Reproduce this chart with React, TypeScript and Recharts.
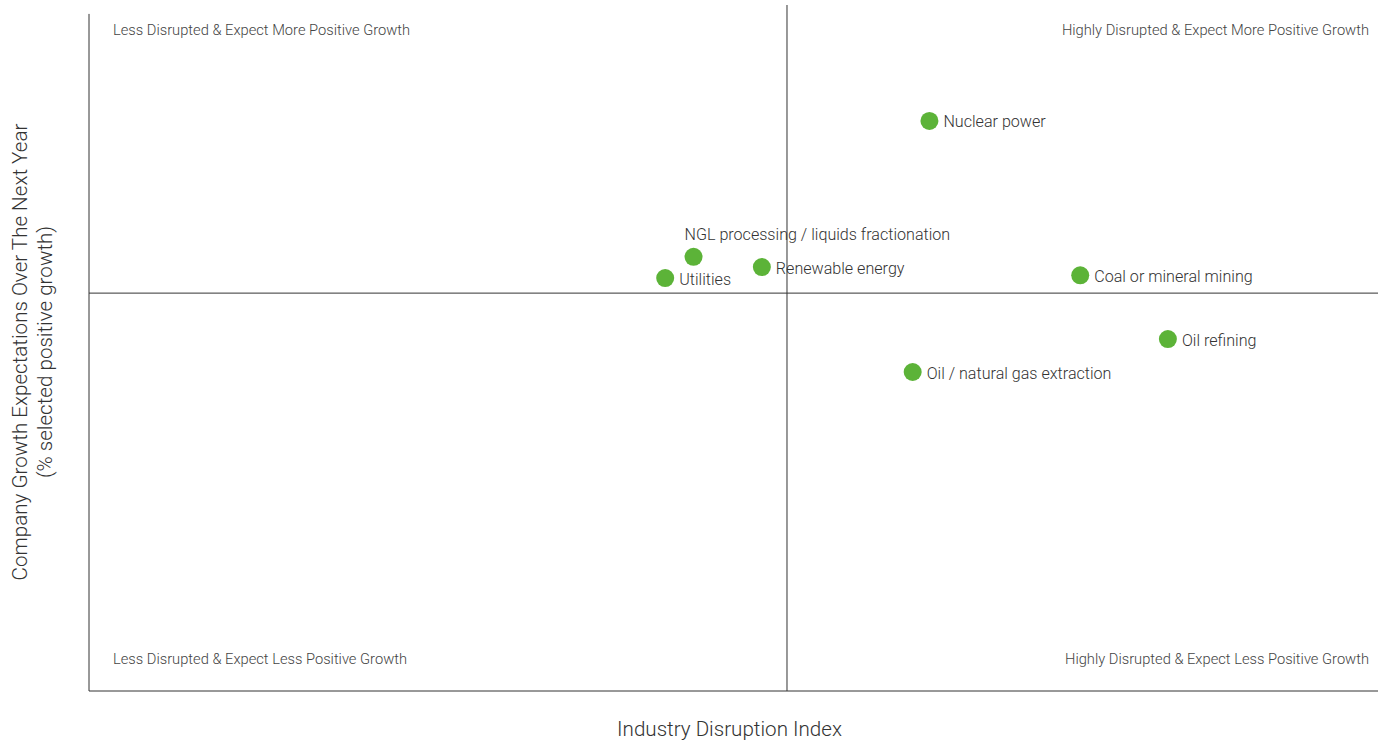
import React from 'react'
import { ScatterChart, Scatter, XAxis, YAxis, ReferenceLine, ReferenceArea } from 'recharts'

// industries, disruption index (x) and share expecting positive growth (y)
const industries = [
  'Nuclear power',
  'NGL processing / liquids fractionation',
  'Renewable energy',
  'Utilities',
  'Coal or mineral mining',
  'Oil refining',
  'Oil / natural gas extraction',
]
const disruption = [65.2, 46.9, 52.2, 44.7, 76.9, 83.7, 63.9]
const growth = [83.1, 63.3, 61.8, 60.2, 60.6, 51.3, 46.5]
const labelAbove = ['NGL processing / liquids fractionation']

const midX = 54.15
const midY = 58.0
const quadrants = [
  { name: 'Less Disrupted & Expect More Positive Growth', x1: 0, x2: midX, y1: midY, y2: 100, pos: 'tl' },
  { name: 'Highly Disrupted & Expect More Positive Growth', x1: midX, x2: 100, y1: midY, y2: 100, pos: 'tr' },
  { name: 'Less Disrupted & Expect Less Positive Growth', x1: 0, x2: midX, y1: 0, y2: midY, pos: 'bl' },
  { name: 'Highly Disrupted & Expect Less Positive Growth', x1: midX, x2: 100, y1: 0, y2: midY, pos: 'br' },
]

const data = industries.map((name, i) => ({ name, x: disruption[i], y: growth[i] }))

const FONT = 'Roboto, sans-serif'
const GREEN = '#5cb338'

const Dot = (p: any) => {
  const above = labelAbove.includes(p.payload.name)
  return (
    <g>
      <circle cx={p.cx} cy={p.cy} r={9} fill={GREEN} />
      <text
        x={above ? p.cx - 9 : p.cx + 14}
        y={above ? p.cy - 22 : p.cy + 1}
        dominantBaseline="central"
        fontFamily={FONT}
        fontWeight={300}
        fontSize={16.1}
        fill="#333"
      >
        {p.payload.name}
      </text>
    </g>
  )
}

const quadLabel = (text: string, pos: string) => (props: any) => {
  const vb = props.viewBox
  const left = pos[1] === 'l'
  const top = pos[0] === 't'
  const x = left ? vb.x + 24 : vb.x + vb.width - 9
  const y = top ? vb.y + 25 : vb.y + vb.height - 32
  return (
    <text x={x} y={y} textAnchor={left ? 'start' : 'end'} dominantBaseline="central"
      fontFamily={FONT} fontWeight={300} fontSize={14.7} fill="#444">
      {text}
    </text>
  )
}

export default function App() {
  return (
    <div style={{ position: 'absolute', left: 0, top: 0, background: '#fff' }}>
      <ScatterChart width={1382} height={740} margin={{ top: 5, right: 4, bottom: 0, left: 0 }}>
        <XAxis
          type="number" dataKey="x" domain={[0, 100]} height={49}
          tick={false} tickLine={false} axisLine={{ stroke: '#333' }}
          label={{
            content: (p: any) => (
              <text x={p.viewBox.x + p.viewBox.width / 2 - 4} y={736} textAnchor="middle"
                fontFamily={FONT} fontWeight={300} fontSize={20.6} fill="#333">
                Industry Disruption Index
              </text>
            ),
          }}
        />
        <YAxis
          type="number" dataKey="y" domain={[0, 100]} width={89}
          tick={false} tickLine={false} axisLine={false}
          label={{
            content: () => (
              <g fontFamily={FONT} fontWeight={300} fontSize={20.6} fill="#333">
                <text x={20} y={352} transform="rotate(-90, 20, 352)" textAnchor="middle" dominantBaseline="central">
                  Company Growth Expectations Over The Next Year
                </text>
                <text x={45} y={352} transform="rotate(-90, 45, 352)" textAnchor="middle" dominantBaseline="central">
                  (% selected positive growth)
                </text>
              </g>
            ),
          }}
        />
        {quadrants.map((q) => (
          <ReferenceArea key={q.name} x1={q.x1} x2={q.x2} y1={q.y1} y2={q.y2}
            fill="none" stroke="none" label={{ content: quadLabel(q.name, q.pos) }} />
        ))}
        <ReferenceLine segment={[{ x: 0, y: 0 }, { x: 0, y: 98.7 }]} stroke="#333" />
        <ReferenceLine x={midX} stroke="#333" />
        <ReferenceLine y={midY} stroke="#333" />
        <Scatter data={data} shape={Dot} isAnimationActive={false} />
      </ScatterChart>
    </div>
  )
}
